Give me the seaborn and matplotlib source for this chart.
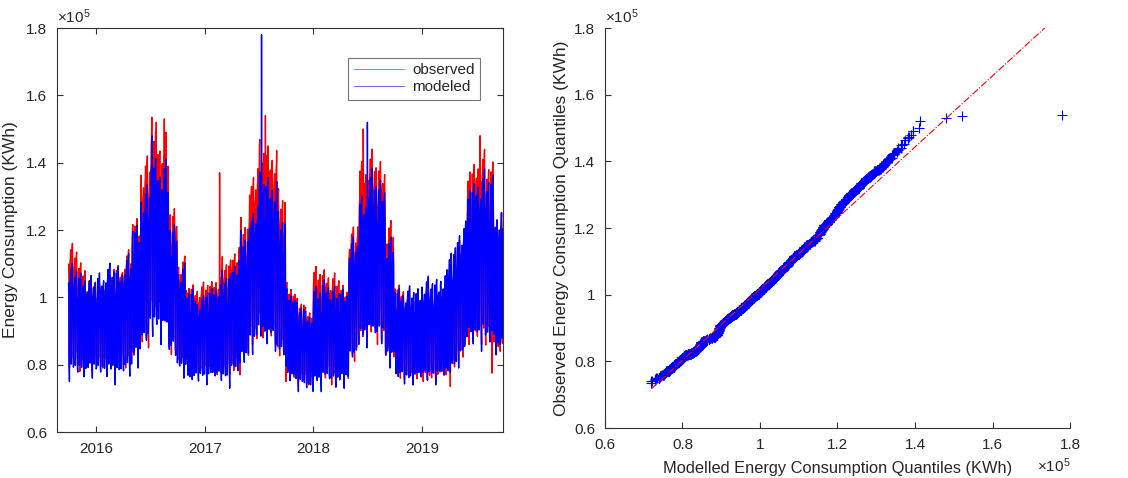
import numpy as np
import pandas as pd
import matplotlib
matplotlib.use('Agg')
import matplotlib.pyplot as plt
import matplotlib.dates as mdates
from matplotlib.ticker import FuncFormatter
import seaborn as sns

"""
Daily energy consumption, observed vs modeled (left) and the QQ plot
of the two samples (right). Values in units of 1e5 KWh.
Monthly levels read from the figure: peak = weekday top, base = weekend low.
"""

#%%
# monthly levels, Oct 2015 ... Sep 2019
obs_peak = [1.18, 1.13, 1.08, 1.06, 1.08, 1.12, 1.16, 1.27, 1.45, 1.54, 1.52, 1.30,
            1.14, 1.06, 1.06, 1.07, 1.09, 1.14, 1.19, 1.26, 1.44, 1.50, 1.50, 1.35,
            1.07, 1.01, 0.99, 1.11, 1.11, 1.09, 1.06, 1.23, 1.45, 1.47, 1.45, 1.25,
            1.06, 1.04, 1.02, 1.02, 1.02, 1.04, 1.12, 1.23, 1.44, 1.47, 1.45, 1.30]
obs_base = [0.79, 0.78, 0.78, 0.79, 0.79, 0.80, 0.79, 0.81, 0.85, 0.93, 0.93, 0.83,
            0.79, 0.77, 0.77, 0.77, 0.77, 0.77, 0.77, 0.81, 0.86, 0.88, 0.86, 0.81,
            0.75, 0.75, 0.74, 0.75, 0.75, 0.74, 0.75, 0.81, 0.86, 0.88, 0.86, 0.81,
            0.76, 0.75, 0.75, 0.75, 0.75, 0.77, 0.78, 0.81, 0.86, 0.86, 0.84, 0.82]
mod_peak = [1.12, 1.10, 1.08, 1.10, 1.12, 1.12, 1.15, 1.25, 1.36, 1.46, 1.44, 1.25,
            1.12, 1.05, 1.02, 1.05, 1.07, 1.10, 1.15, 1.22, 1.32, 1.40, 1.40, 1.28,
            1.05, 1.00, 0.98, 1.05, 1.08, 1.05, 1.05, 1.20, 1.34, 1.41, 1.39, 1.20,
            1.05, 1.05, 1.05, 1.08, 1.08, 1.10, 1.18, 1.25, 1.38, 1.41, 1.41, 1.30]
mod_base = [0.75, 0.75, 0.76, 0.75, 0.75, 0.74, 0.75, 0.79, 0.83, 0.86, 0.86, 0.81,
            0.76, 0.73, 0.74, 0.74, 0.74, 0.73, 0.75, 0.79, 0.83, 0.84, 0.84, 0.79,
            0.74, 0.72, 0.71, 0.72, 0.73, 0.72, 0.73, 0.79, 0.84, 0.85, 0.84, 0.79,
            0.74, 0.73, 0.74, 0.74, 0.74, 0.74, 0.76, 0.79, 0.84, 0.84, 0.82, 0.81]

# weekday profile (Mon..Sun), week-to-week scaling of the weekday swing,
# and week-to-week lift of the sunday low (fraction of the monthly range)
day_shape = [0.80, 0.92, 0.95, 0.90, 0.78, 0.14, 0.00]
week_shape = [0.88, 1.00, 0.82, 0.93, 0.76, 0.97, 0.85, 0.90, 0.79]
obs_low_shape = [0.00, 0.08, 0.03, 0.12, 0.05, 0.00, 0.10, 0.02, 0.07, 0.04, 0.09]
mod_low_shape = [0.00, 0.22, 0.12, 0.28, 0.08, 0.18, 0.25, 0.04, 0.20, 0.10, 0.26]

# single-day spikes
obs_spike_dates = ['2016-07-07', '2016-07-22', '2016-08-18', '2017-02-20',
                   '2017-07-24', '2018-06-18', '2019-07-16', '2019-04-07',
                   '2019-08-25']
obs_spike_vals = [1.535, 1.52, 1.53, 1.37, 1.54, 1.50, 1.48, 0.735, 0.775]
mod_spike_dates = ['2016-07-08', '2017-07-11', '2018-07-02']
mod_spike_vals = [1.48, 1.78, 1.52]

#%%
# building the daily series
dates = pd.date_range('2015-10-01', '2019-09-30', freq='D')
month_idx = (dates.year - 2015) * 12 + dates.month - 10
dow = dates.dayofweek
week_idx = (dates - dates[0]).days // 7
swing = np.array(day_shape)[dow] * np.array(week_shape)[week_idx % len(week_shape)]
obs_swing = np.where(dow == 6, np.array(obs_low_shape)[week_idx % len(obs_low_shape)], swing)
mod_swing = np.where(dow == 6, np.array(mod_low_shape)[week_idx % len(mod_low_shape)], swing)

observed = np.array(obs_base)[month_idx] + (np.array(obs_peak) - np.array(obs_base))[month_idx] * obs_swing
modeled = np.array(mod_base)[month_idx] + (np.array(mod_peak) - np.array(mod_base))[month_idx] * mod_swing

df = pd.DataFrame({'date': dates, 'observed': observed, 'modeled': modeled}).set_index('date')
df.loc[pd.to_datetime(obs_spike_dates), 'observed'] = obs_spike_vals
df.loc[pd.to_datetime(mod_spike_dates), 'modeled'] = mod_spike_vals
df = df.reset_index()

# quantiles for the qq plot
q_mod = np.sort(df['modeled'].values)
q_obs = np.sort(df['observed'].values)
q1x, q3x = np.percentile(q_mod, [25, 75])
q1y, q3y = np.percentile(q_obs, [25, 75])
slope = (q3y - q1y) / (q3x - q1x)
ref_x = np.array([q_mod.min(), q_mod.max()])
ref_y = q1y + slope * (ref_x - q1x)

#%%
# plotting
sns.set_style('ticks')
txt = '#262626'
plt.rcParams['font.family'] = ['Liberation Sans', 'DejaVu Sans']
plt.rcParams.update({'xtick.direction': 'in', 'ytick.direction': 'in',
                     'axes.edgecolor': '#333333', 'axes.linewidth': 0.8,
                     'xtick.color': '#333333', 'ytick.color': '#333333',
                     'xtick.labelcolor': txt, 'ytick.labelcolor': txt,
                     'axes.labelcolor': txt, 'font.size': 11,
                     'mathtext.fontset': 'custom', 'mathtext.rm': 'Liberation Sans'})

fig = plt.figure(figsize=(11.28, 4.78), dpi=100)
ax1 = fig.add_axes([0.0505, 0.0962, 0.3954, 0.8452])
ax2 = fig.add_axes([0.5363, 0.1046, 0.4123, 0.8368])

sns.lineplot(data=df, x='date', y='observed', ax=ax1, color='#ff0000',
             linewidth=1.0, label='observed', estimator=None)
sns.lineplot(data=df, x='date', y='modeled', ax=ax1, color='#0000ff',
             linewidth=1.0, label='modeled', estimator=None)

fmt = FuncFormatter(lambda v, p: '%g' % round(v, 2))
ax1.set_xlim(pd.Timestamp('2015-08-23'), pd.Timestamp('2019-10-01'))
ax1.set_ylim(0.6, 1.8)
ax1.set_yticks(np.arange(0.6, 1.81, 0.2))
ax1.yaxis.set_major_formatter(fmt)
ax1.xaxis.set_major_locator(mdates.YearLocator())
ax1.xaxis.set_major_formatter(mdates.DateFormatter('%Y'))
ax1.tick_params(top=True, right=True, length=4, labelsize=11, pad=7)
ax1.set_xlabel('')
ax1.set_ylabel('Energy Consumption (KWh)', fontsize=12.5, labelpad=6)
ax1.text(0.0, 1.005, r'$\times\mathregular{10^5}$', transform=ax1.transAxes,
         ha='left', va='bottom', fontsize=11, color=txt)
leg = ax1.legend(loc='upper right', bbox_to_anchor=(0.965, 0.945), frameon=True,
                 fancybox=False, handlelength=3.3, fontsize=11, borderpad=0.35,
                 labelspacing=0.2, handletextpad=0.5)
leg.get_frame().set_edgecolor('#555555')
leg.get_frame().set_linewidth(0.8)
for h in leg.get_lines():
    h.set_linewidth(0.7)
    h.set_alpha(0.6)

sns.scatterplot(x=q_mod, y=q_obs, ax=ax2, marker='+', color='blue', s=55,
                linewidth=0.8, zorder=2)
sns.lineplot(x=ref_x, y=ref_y, ax=ax2, color='red', lw=0.8, linestyle='-.',
             zorder=3)
ax2.set_xlim(0.6, 1.8)
ax2.set_ylim(0.6, 1.8)
ax2.set_xticks(np.arange(0.6, 1.81, 0.2))
ax2.set_yticks(np.arange(0.6, 1.81, 0.2))
ax2.xaxis.set_major_formatter(fmt)
ax2.yaxis.set_major_formatter(fmt)
ax2.tick_params(length=4, labelsize=11, pad=7)
sns.despine(ax=ax2)
ax2.set_xlabel('Modelled Energy Consumption Quantiles (KWh)', fontsize=11.8, labelpad=7)
ax2.set_ylabel('Observed Energy Consumption Quantiles (KWh)', fontsize=12.5, labelpad=4)
ax2.text(0.0, 1.005, r'$\times\mathregular{10^5}$', transform=ax2.transAxes,
         ha='left', va='bottom', fontsize=11, color=txt)
ax2.text(1.0, -0.07, r'$\times\mathregular{10^5}$', transform=ax2.transAxes,
         ha='right', va='top', fontsize=11, color=txt)

fig.savefig('out.png', dpi=100)
